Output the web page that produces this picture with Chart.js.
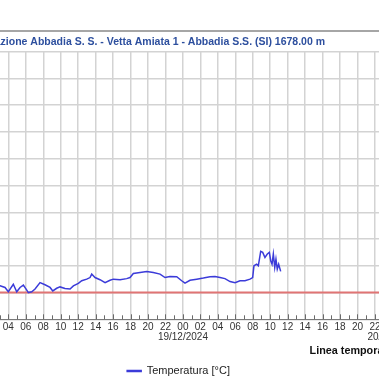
<!DOCTYPE html>
<html><head><meta charset="utf-8">
<script src="https://cdn.jsdelivr.net/npm/chart.js@4/dist/chart.umd.min.js"></script>
<style>
html,body{margin:0;padding:0;background:#fff;overflow:hidden;width:379px;height:379px}
#wrap{position:absolute;left:-90px;top:0;width:528px;height:379px}
canvas{display:block}
</style></head><body>
<div id="wrap"><canvas id="c" width="528" height="379" style="width:528px;height:379px"></canvas></div>
<script>
// ---- data ----
const stationTitle = 'Stazione Abbadia S. S. - Vetta Amiata 1 - Abbadia S.S. (SI) 1678.00 m';
const seriesLabel = 'Temperatura [°C]';
const axisTitle = 'Linea temporale';
const dayLabels = {0: '18/12/2024', 24: '19/12/2024', 48: '20/12/2024'};
// hours since 18/12/2024 00:00
const hours = [2.48,3.05,3.62,4.00,4.57,4.96,5.34,5.72,6.11,6.29,6.68,7.06,7.63,8.20,8.78,9.09,9.54,9.92,10.49,11.07,11.45,12.02,12.41,12.98,13.36,13.55,13.93,14.50,15.08,15.65,16.03,16.80,17.56,17.94,18.32,19.09,19.85,20.61,21.38,21.95,22.52,23.29,23.86,24.24,24.81,25.58,26.34,27.10,27.68,28.25,28.82,29.40,29.97,30.54,31.11,31.69,31.99,32.14,32.45,32.64,32.91,33.14,33.40,33.67,33.90,34.06,34.21,34.36,34.52,34.66,34.81,34.97,35.20];
const temps = [0.29,0.25,0.19,0.03,0.31,0.03,0.19,0.28,0.09,0.00,0.03,0.13,0.37,0.29,0.19,0.06,0.16,0.21,0.15,0.13,0.25,0.34,0.44,0.50,0.56,0.69,0.56,0.48,0.37,0.46,0.50,0.48,0.52,0.56,0.71,0.75,0.79,0.75,0.69,0.56,0.60,0.59,0.44,0.35,0.46,0.50,0.54,0.59,0.60,0.56,0.52,0.41,0.37,0.44,0.44,0.50,0.56,1.00,1.06,1.00,1.54,1.50,1.31,1.44,1.50,1.19,1.06,1.44,0.94,1.25,0.88,1.06,0.79];
const thresholdValue = 0;
const xRange = [-1, 48];
const yRange = [-1, 9];

const tempPoints = hours.map((h, i) => ({x: h, y: temps[i]}));
const thresholdPoints = xRange.map(h => ({x: h, y: thresholdValue}));

const pad2 = n => String(n).padStart(2, '0');

const titleBar = {
  id: 'titleBar',
  afterDraw(chart) {
    const ctx = chart.ctx;
    ctx.save();
    ctx.strokeStyle = '#a6a6a6';
    ctx.lineWidth = 2;
    ctx.beginPath();
    ctx.moveTo(0, 31);
    ctx.lineTo(chart.width, 31);
    ctx.stroke();
    ctx.fillStyle = '#2d4f9e';
    ctx.font = 'bold 10.5px "Liberation Sans", Arial, sans-serif';
    ctx.textAlign = 'right';
    ctx.textBaseline = 'middle';
    ctx.fillText(stationTitle, 415, 42.5);
    ctx.restore();
  }
};

const minorTicks = {
  id: 'minorTicks',
  afterDatasetsDraw(chart) {
    const x = chart.scales.x;
    const bottom = chart.chartArea.bottom;
    const ctx = chart.ctx;
    ctx.save();
    ctx.strokeStyle = '#6a6a6a';
    ctx.lineWidth = 1;
    for (let h = Math.ceil(x.min); h <= x.max; h++) {
      const px = Math.round(x.getPixelForValue(h)) + 0.5;
      ctx.beginPath();
      ctx.moveTo(px, bottom - (h % 2 === 0 ? 5 : 4));
      ctx.lineTo(px, bottom);
      ctx.stroke();
    }
    ctx.restore();
  }
};

new Chart(document.getElementById('c'), {
  type: 'line',
  data: {
    datasets: [
      {label: seriesLabel, data: tempPoints, borderColor: '#3b3bd9', backgroundColor: '#3b3bd9',
       borderWidth: 1.5, pointRadius: 0, tension: 0, order: 1},
      {label: 'soglia', data: thresholdPoints, borderColor: '#e07474', backgroundColor: '#e07474',
       borderWidth: 2, pointRadius: 0, order: 2}
    ]
  },
  options: {
    responsive: false,
    animation: false,
    layout: {padding: {left: 54.7, right: 45.6, top: 51.7, bottom: -7.5}},
    scales: {
      x: {
        type: 'linear', min: xRange[0], max: xRange[1],
        grid: {
          color: c => (c.tick && c.tick.value % 2 === 0) ? '#d3d3d3' : 'rgba(0,0,0,0)',
          lineWidth: 1.5, drawTicks: false
        },
        border: {display: true, color: '#7a7a7a', width: 1},
        ticks: {
          stepSize: 1, autoSkip: false, maxRotation: 0, minRotation: 0, padding: 3,
          color: '#333', font: {family: '"Liberation Sans", Arial, sans-serif', size: 10, lineHeight: 1.0},
          callback: v => {
            if (v % 2 !== 0) return '';
            const hh = ((v % 24) + 24) % 24;
            if (hh === 0) return [pad2(hh), dayLabels[v] || ''];
            return pad2(hh);
          }
        },
        title: {display: true, text: axisTitle, align: 'end', color: '#111',
          font: {family: '"Liberation Sans", Arial, sans-serif', size: 10.8, weight: 'bold', lineHeight: 1.0},
          padding: {top: 0, bottom: 5.4}}
      },
      y: {
        min: yRange[0], max: yRange[1],
        ticks: {display: false, stepSize: 1},
        grid: {color: '#d3d3d3', lineWidth: 1.5, drawTicks: false},
        border: {display: false}
      }
    },
    plugins: {
      legend: {
        position: 'bottom',
        labels: {
          filter: item => item.datasetIndex === 0,
          boxWidth: 14, boxHeight: 1, padding: 4, color: '#222',
          font: {family: '"Liberation Sans", Arial, sans-serif', size: 11}
        }
      },
      title: {display: false},
      tooltip: {enabled: false}
    }
  },
  plugins: [titleBar, minorTicks]
});
</script>
</body></html>
